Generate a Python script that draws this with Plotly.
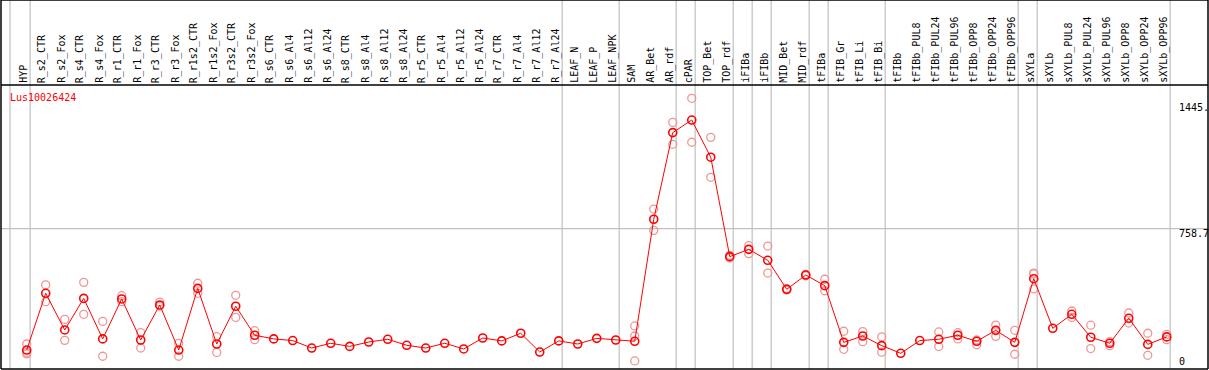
import plotly.graph_objects as go

categories = ["HYP", "R_s2_CTR", "R_s2_Fox", "R_s4_CTR", "R_s4_Fox", "R_r1_CTR", "R_r1_Fox",
              "R_r3_CTR", "R_r3_Fox", "R_r1s2_CTR", "R_r1s2_Fox", "R_r3s2_CTR", "R_r3s2_Fox",
              "R_s6_CTR", "R_s6_Al4", "R_s6_Al12", "R_s6_Al24", "R_s8_CTR", "R_s8_Al4", "R_s8_Al12",
              "R_s8_Al24", "R_r5_CTR", "R_r5_Al4", "R_r5_Al12", "R_r5_Al24", "R_r7_CTR", "R_r7_Al4",
              "R_r7_Al12", "R_r7_Al24", "LEAF_N", "LEAF_P", "LEAF_NPK", "SAM", "AR_Bet", "AR_rdf",
              "cPAR", "TOP_Bet", "TOP_rdf", "iFIBa", "iFIBb", "MID_Bet", "MID_rdf", "tFIBa",
              "tFIB_Gr", "tFIB_Li", "tFIB_Bi", "tFIBb", "tFIBb_PUL8", "tFIBb_PUL24", "tFIBb_PUL96",
              "tFIBb_OPP8", "tFIBb_OPP24", "tFIBb_OPP96", "sXYLa", "sXYLb", "sXYLb_PUL8",
              "sXYLb_PUL24", "sXYLb_PUL96", "sXYLb_OPP8", "sXYLb_OPP24", "sXYLb_OPP96"]

mean_values = [93, 404, 203, 376, 154, 373, 148, 340, 93, 431, 126, 333, 174,
               154, 145, 104, 130, 113, 137, 152, 119, 104, 130, 99, 159, 143, 185,
               82, 143, 126, 157, 148, 141, 810, 1285, 1354, 1150, 605, 645, 585,
               426, 504, 446, 135, 170, 117, 75, 145, 152, 174, 141, 201, 135,
               484, 212, 289, 163, 130, 267, 124, 165]

rep_1 = [126, 450, 261, 464, 250, 391, 188, 356, 130, 459, 166, 393, 199,
         None, None, None, None, None, None, None, None, None, None, None, None, None, None,
         None, None, None, None, None, 225, 866, 1341, 1473, 1259, 612, 665, 663,
         430, 508, 481, 196, 194, 165, None, None, 192, 188, 148, 230, 201,
         515, None, 307, 229, 139, 296, 185, 179]

rep_2 = [80, 358, 146, 289, 59, 358, 104, 334, 59, 404, 80, 272, 150,
         None, None, None, None, None, None, None, None, None, None, None, None, None, None,
         None, None, None, None, None, 170, 749, 1221, 1232, 1040, 598, 621, 515,
         422, 500, 418, 97, 139, 81, None, None, 112, 154, 122, 168, 70,
         428, None, 272, 101, 117, 241, 64, 150]

rep_3 = [72] + [None] * 31 + [33] + [None] * 20 + [510] + [None] * 7

gene_id = "Lus10026424"
y_tick_values = [0, 758.7, 1445]
y_tick_labels = ["0", "758.7", "1445."]
group_ends = [0, 28, 31, 34, 35, 37, 38, 39, 41, 42, 45, 52, 53, 60]

W, H = 1209, 370
ML, MR, MT, MB = 1, 1, 85, 1
plot_h = H - MT - MB
plot_w = W - ML - MR
top_paper = 1 + MT / plot_h

def py2paper(py):
    return (H - MB - py) / plot_h

fig = go.Figure()

# replicate points
rx, ry = [], []
for reps in (rep_1, rep_2, rep_3):
    for c, v in zip(categories, reps):
        if v is not None:
            rx.append(c)
            ry.append(v)
fig.add_trace(go.Scatter(x=rx, y=ry, mode="markers",
                         marker=dict(symbol="circle-open", size=8, color="rgb(238,150,150)",
                                     line=dict(width=1.3, color="rgb(238,150,150)")),
                         showlegend=False, hoverinfo="skip"))

# mean line
fig.add_trace(go.Scatter(x=categories, y=mean_values, mode="lines+markers",
                         line=dict(color="#FF0000", width=1),
                         marker=dict(symbol="circle-open", size=8, color="#FF0000",
                                     line=dict(width=1.6, color="#FF0000")),
                         showlegend=False))

shapes = []
# vertical group separators (span header too)
for g in [-1.06] + group_ends:
    shapes.append(dict(type="line", xref="x", yref="paper", x0=g + 0.18, x1=g + 0.18,
                       y0=0, y1=top_paper, line=dict(color="#C0C0C0", width=1.2), layer="below"))
# horizontal grid at middle tick
shapes.append(dict(type="line", xref="paper", yref="y", x0=0, x1=1, y0=y_tick_values[1],
                   y1=y_tick_values[1], line=dict(color="#C0C0C0", width=1.2), layer="below"))
# black frame lines
blk = dict(color="black", width=1.5)
shapes.append(dict(type="line", xref="paper", yref="paper", x0=0, x1=1, y0=1, y1=1, line=blk))
shapes.append(dict(type="line", xref="paper", yref="paper", x0=0, x1=1, y0=top_paper, y1=top_paper, line=blk))
shapes.append(dict(type="line", xref="paper", yref="paper", x0=0, x1=1, y0=0, y1=0, line=blk))
shapes.append(dict(type="line", xref="paper", yref="paper", x0=0, x1=0, y0=0, y1=top_paper, line=blk))
shapes.append(dict(type="line", xref="paper", yref="paper", x0=1, x1=1, y0=0, y1=top_paper, line=blk))

annotations = []
mono = "DejaVu Sans Mono"
for c in categories:
    annotations.append(dict(x=c, xref="x", y=py2paper(84), yref="paper", text=c,
                            textangle=-90, showarrow=False, xanchor="center", yanchor="bottom",
                            xshift=-3, font=dict(family=mono, size=10, color="black"),
                            borderpad=0))

# y tick labels (inside, right)
tick_x = (1178 - ML) / plot_w
for v, t in zip(y_tick_values, y_tick_labels):
    annotations.append(dict(x=tick_x, xref="paper", y=v, yref="y", text=t, showarrow=False,
                            xanchor="left", yanchor="bottom" if v == 0 else "top",
                            font=dict(family=mono, size=10, color="black"), borderpad=0,
                            yshift=-1 if v == 0 else 2))

annotations.append(dict(x=(9 - ML) / plot_w, xref="paper", y=py2paper(91), yref="paper",
                        text=gene_id, showarrow=False, xanchor="left", yanchor="top",
                        font=dict(family=mono, size=10, color="#FF0000"), borderpad=0))

fig.update_layout(
    width=W, height=H,
    margin=dict(l=ML, r=MR, t=MT, b=MB, pad=0),
    paper_bgcolor="white", plot_bgcolor="white",
    xaxis=dict(type="category", categoryorder="array", categoryarray=categories,
               range=[-1.353, 62.17], showgrid=False, showticklabels=False, zeroline=False,
               showline=False, ticks=""),
    yaxis=dict(range=[-11, 1546], showgrid=False, showticklabels=False, zeroline=False,
               showline=False, ticks=""),
    shapes=shapes, annotations=annotations, showlegend=False,
)

fig.write_html("out.html", config={"displayModeBar": False},
               post_script="document.body.style.margin='0px';document.body.style.overflow='hidden';")
